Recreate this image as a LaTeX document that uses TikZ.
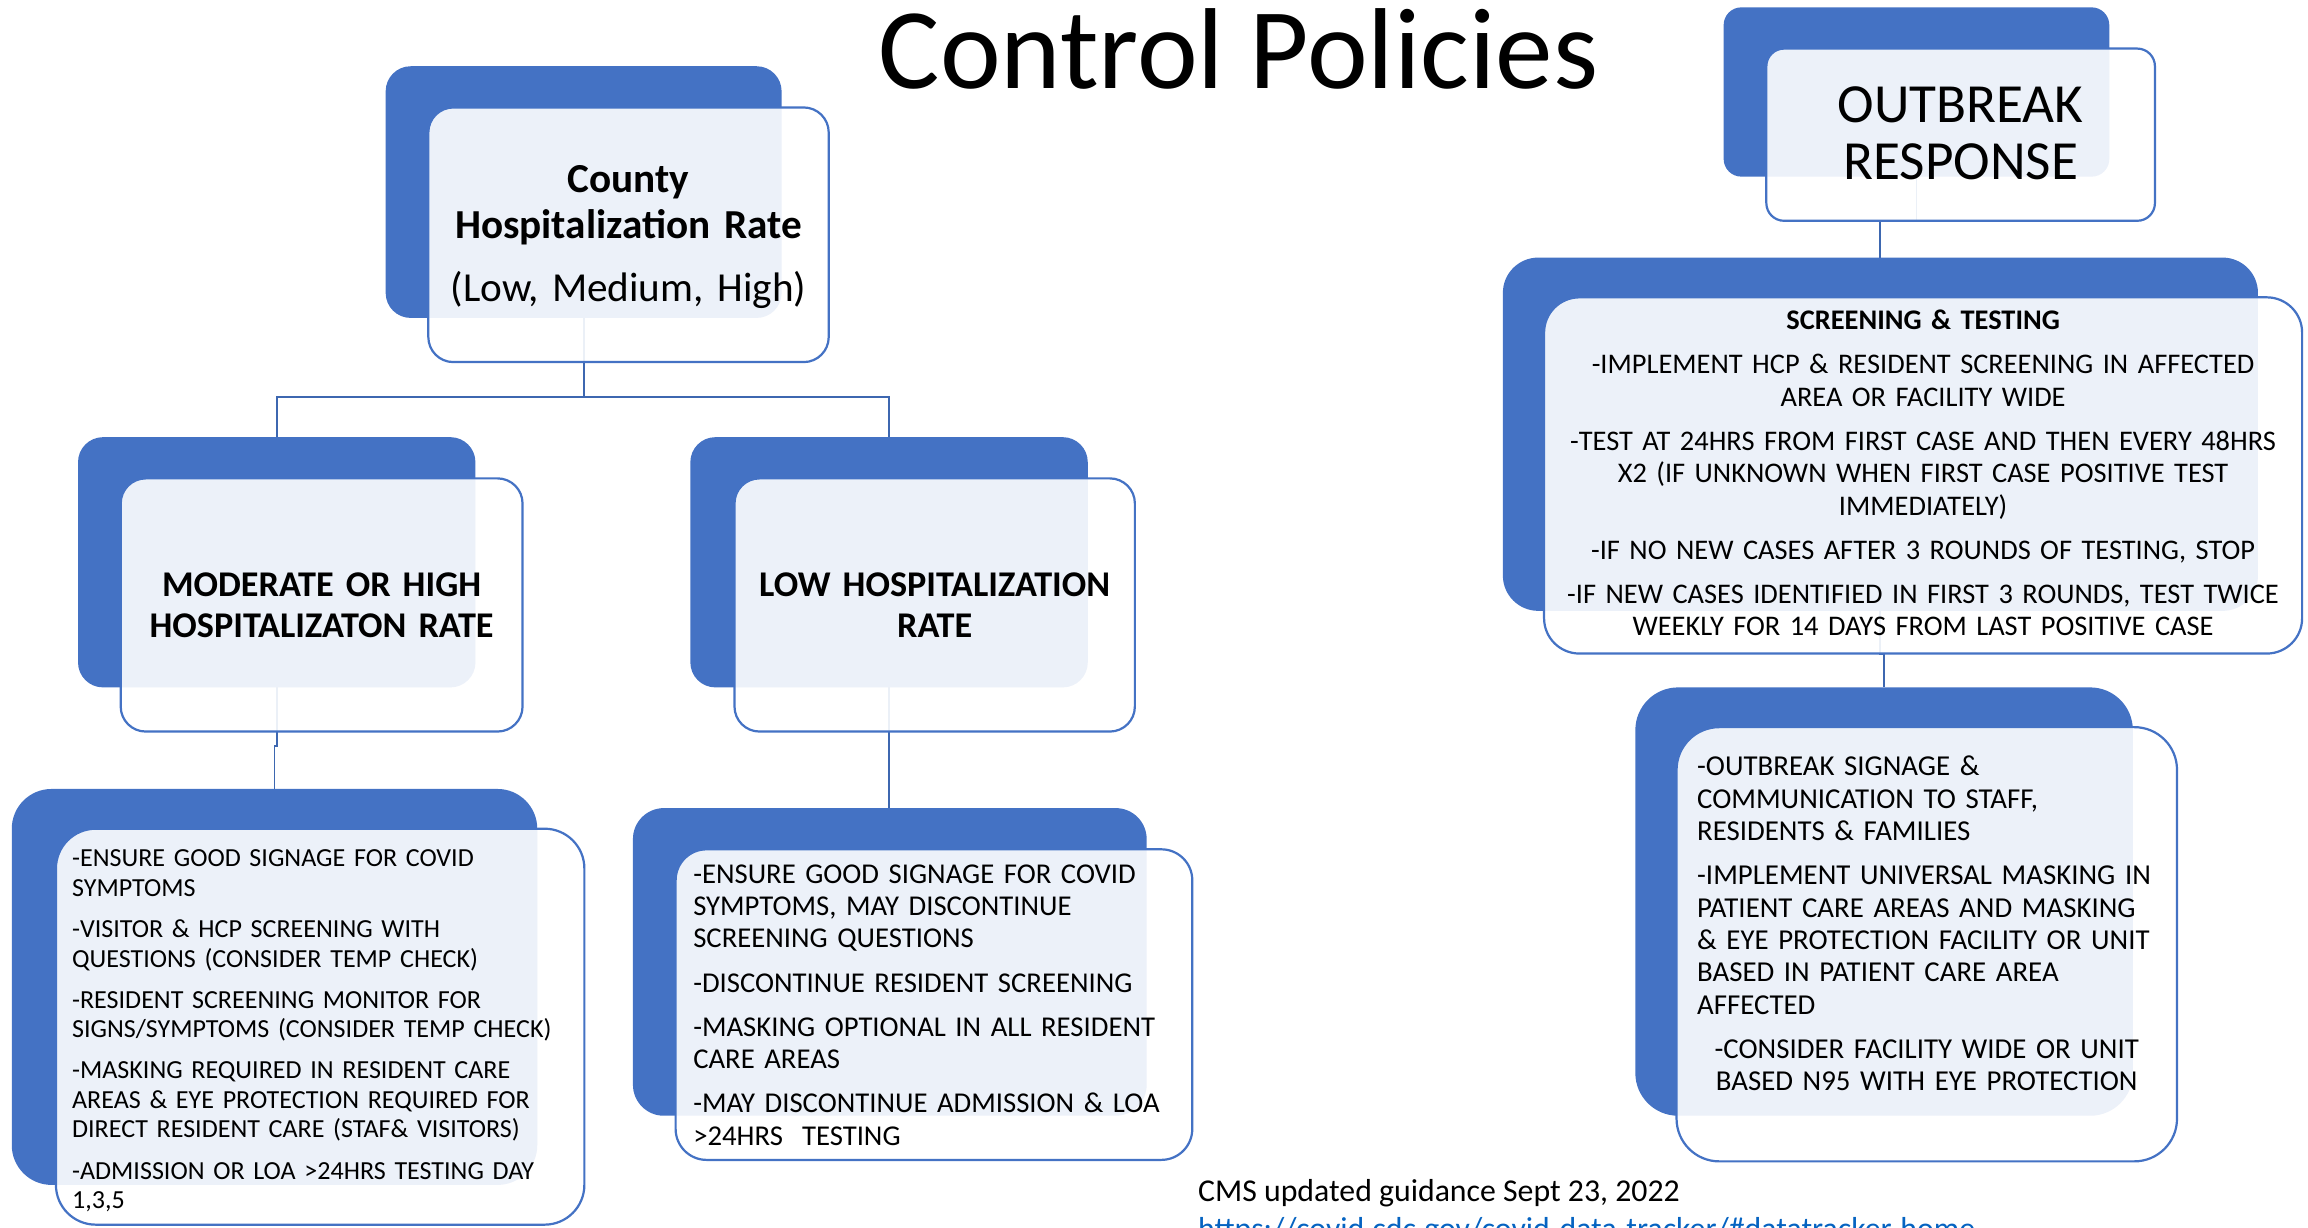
\documentclass[tikz,border=0pt]{standalone}
\usepackage{fontspec}
\setmainfont{Carlito}
\usetikzlibrary{backgrounds}
\definecolor{pblue}{HTML}{4472C4}
\definecolor{linkblue}{HTML}{0563C1}
\begin{document}
\begin{tikzpicture}[x=0.5pt,y=-0.5pt,
  backbox/.style={draw=none, fill=pblue, inner sep=0pt, outer sep=0pt},
  frontbox/.style={draw=pblue, line width=0.75pt, fill=white, fill opacity=0.9, inner sep=0pt, outer sep=0pt},
  conn/.style={draw=pblue!90!black, line width=0.65pt},
  txt/.style={inner sep=0pt, outer sep=0pt, text=black},
]
\useasboundingbox (0,0) rectangle (1568,834);
\clip (0,0) rectangle (1568,834);

% title
\node[txt, anchor=base west, font=\fontsize{39.1}{40}\selectfont] (title) at (597,60) {Control Policies};

% County
\node[backbox, rounded corners=8.5pt, minimum width=134.5pt, minimum height=85.5pt] (countyB) at (396.5,130.5) {};
\node[frontbox, rounded corners=8.5pt, minimum width=136pt, minimum height=86.5pt] (countyF) at (427,159.5) {};
\node[txt, anchor=base, text width=140pt, align=center, font=\fontsize{14}{15.5}\selectfont] (countyT) at (427,131)
  {\textbf{County}\\\textbf{Hospitalization Rate}\\[6pt](Low, Medium, High)};

% Moderate
\node[backbox, rounded corners=8.5pt, minimum width=135pt, minimum height=85pt] (modB) at (188,382) {};
\node[frontbox, rounded corners=8.5pt, minimum width=136.5pt, minimum height=86pt] (modF) at (218.5,411) {};
\node[txt, anchor=base, text width=136pt, align=center, font=\fontsize{12.3}{14}\selectfont\bfseries] (modT) at (218.5,405)
  {MODERATE OR HIGH\\HOSPITALIZATON RATE};

% Low
\node[backbox, rounded corners=8.5pt, minimum width=135pt, minimum height=85pt] (lowB) at (604,382) {};
\node[frontbox, rounded corners=8.5pt, minimum width=136pt, minimum height=86pt] (lowF) at (635,411) {};
\node[txt, anchor=base, text width=136pt, align=center, font=\fontsize{12.3}{14}\selectfont\bfseries] (lowT) at (635,405)
  {LOW HOSPITALIZATION\\RATE};

% Moderate detail
\node[backbox, rounded corners=13.5pt, minimum width=178.5pt, minimum height=134.5pt] (moddB) at (186.5,670.5) {};
\node[frontbox, rounded corners=13.5pt, minimum width=179.5pt, minimum height=134.5pt] (moddF) at (217.5,697.5) {};
\node[txt, anchor=base west, text width=180pt, align=left, font=\fontsize{8.85}{10}\selectfont] (moddT) at (49,589)
  {-ENSURE GOOD SIGNAGE FOR COVID\\SYMPTOMS\\[4pt]-VISITOR \& HCP SCREENING WITH\\QUESTIONS (CONSIDER TEMP CHECK)\\[4pt]-RESIDENT SCREENING MONITOR FOR\\SIGNS/SYMPTOMS (CONSIDER TEMP CHECK)\\[4pt]-MASKING REQUIRED IN RESIDENT CARE\\AREAS \& EYE PROTECTION REQUIRED FOR\\DIRECT RESIDENT CARE (STAF\& VISITORS)\\[4pt]-ADMISSION OR LOA >24HRS TESTING DAY\\1,3,5};

% Low detail
\node[backbox, rounded corners=10.5pt, minimum width=174.5pt, minimum height=104.5pt] (lowdB) at (604.5,653.5) {};
\node[frontbox, rounded corners=10.5pt, minimum width=175.5pt, minimum height=105.5pt] (lowdF) at (634.5,682.5) {};
\node[txt, anchor=base west, text width=175pt, align=left, font=\fontsize{9.75}{11}\selectfont] (lowdT) at (471,600)
  {-ENSURE GOOD SIGNAGE FOR COVID\\SYMPTOMS, MAY DISCONTINUE\\SCREENING QUESTIONS\\[4pt]-DISCONTINUE RESIDENT SCREENING\\[4pt]-MASKING OPTIONAL IN ALL RESIDENT\\CARE AREAS\\[4pt]-MAY DISCONTINUE ADMISSION \& LOA\\>24HRS\ \ TESTING};

% Outbreak response
\node[backbox, rounded corners=6pt, minimum width=131pt, minimum height=57.5pt] (obB) at (1302,62.5) {};
\node[frontbox, rounded corners=6pt, minimum width=132pt, minimum height=58.5pt] (obF) at (1332,91.5) {};
\node[txt, anchor=base, text width=132pt, align=center, font=\fontsize{18.75}{19.5}\selectfont] (obT) at (1332,83)
  {OUTBREAK\\RESPONSE};

% Screening
\node[backbox, rounded corners=12pt, minimum width=256.5pt, minimum height=120pt] (scrB) at (1277.5,295) {};
\node[frontbox, rounded corners=12pt, minimum width=257.5pt, minimum height=121pt] (scrF) at (1306.5,323) {};
\node[txt, anchor=base, text width=255pt, align=center, font=\fontsize{9.65}{11}\selectfont] (scrT) at (1306.5,224)
  {\textbf{SCREENING \& TESTING}\\[4pt]-IMPLEMENT HCP \& RESIDENT SCREENING IN AFFECTED\\AREA OR FACILITY WIDE\\[4pt]-TEST AT 24HRS FROM FIRST CASE AND THEN EVERY 48HRS\\X2 (IF UNKNOWN WHEN FIRST CASE POSITIVE TEST\\IMMEDIATELY)\\[4pt]-IF NO NEW CASES AFTER 3 ROUNDS OF TESTING, STOP\\[4pt]-IF NEW CASES IDENTIFIED IN FIRST 3 ROUNDS, TEST TWICE\\WEEKLY FOR 14 DAYS FROM LAST POSITIVE CASE};

% Bottom right
\node[backbox, rounded corners=14.5pt, minimum width=169pt, minimum height=145.5pt] (brB) at (1280,612.5) {};
\node[frontbox, rounded corners=14.5pt, minimum width=170pt, minimum height=147.5pt] (brF) at (1309,641.5) {};
\node[txt, anchor=base west, text width=165pt, align=left, font=\fontsize{9.8}{11}\selectfont] (brT) at (1153,527)
  {-OUTBREAK SIGNAGE \&\\COMMUNICATION TO STAFF,\\RESIDENTS \& FAMILIES\\[4pt]-IMPLEMENT UNIVERSAL MASKING IN\\PATIENT CARE AREAS AND MASKING\\\& EYE PROTECTION FACILITY OR UNIT\\BASED IN PATIENT CARE AREA\\AFFECTED};
\node[txt, anchor=base, text width=165pt, align=center, font=\fontsize{9.8}{11}\selectfont] (brT2) at (1309,719)
  {-CONSIDER FACILITY WIDE OR UNIT\\BASED N95 WITH EYE PROTECTION};

% footer
\node[txt, anchor=base west, font=\fontsize{10.8}{13}\selectfont] (cms) at (814,816) {CMS updated guidance Sept 23, 2022};
\node[txt, anchor=base west, text=linkblue, font=\fontsize{10.8}{13}\selectfont] (link) at (814,842) {https://covid.cdc.gov/covid-data-tracker/\#datatracker-home};

% connectors
\begin{scope}[on background layer]
\draw[conn] (countyB.south) -- ++(0,54) coordinate (hub) -| (modB.north);
\draw[conn] (hub) -| (lowB.north);
\draw[conn] (modB.south) -- ++(0,40) -| (moddB.north);
\draw[conn] (lowB.south) -- (lowB.south |- lowdB.north);
\draw[conn] (obB.south) -- ++(0,30) -| (scrB.north);
\draw[conn] (scrB.south) -- ++(0,29) -| (brB.north);
\end{scope}
\end{tikzpicture}
\end{document}
